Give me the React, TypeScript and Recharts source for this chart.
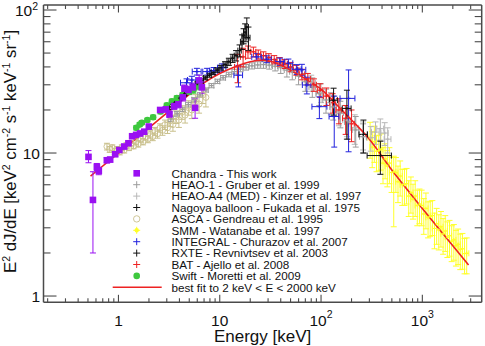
import React from 'react';
import { ComposedChart, Scatter, Line, XAxis, YAxis, ErrorBar, Legend } from 'recharts';

// Each point: [energy keV, E^2 dJ/dE, y error (sym or [lo, hi]), x error (sym or [lo, hi])]
type Err = number | [number, number];
type Pt = [number, number, Err?, Err?];

const chandraPts: Pt[] = [
  [0.506, 9.4, [0.85, 1.0]], [0.56, 4.7, [2.7, 2.7]], [0.612, 8.0, 0.45], [0.64, 7.5, 0.45],
  [0.768, 8.9, 0.35], [0.828, 9.0, 0.35], [0.928, 9.8, 0.35], [1.02, 10.5, 0.35],
  [1.14, 11.1, 0.4], [1.255, 11.7, 0.4], [1.365, 13.1, 0.45], [1.495, 13.4, 0.45],
  [1.637, 13.7, 0.5], [1.794, 14.1, 0.5], [1.995, 15.3, 0.6], [2.58, 20.0, 0.8],
  [2.94, 20.2, 0.9], [3.19, 18.7, 1.0], [3.55, 21.3, 1.1], [3.91, 21.9, 1.2],
  [4.32, 24.5, 1.4], [4.48, 28.3, 1.6], [4.91, 27.6, 1.7], [5.42, 28.8, 2.0],
  [5.71, 20.7, 3.2], [6.26, 32.2, 2.8], [6.66, 28.8, 2.6],
];

const heao1Pts: Pt[] = [
  [3.3, 17.3, 0.7, 0.2], [3.8, 18.8, 0.7, 0.2], [4.3, 20.2, 0.7, 0.25], [4.9, 21.8, 0.8, 0.3],
  [5.6, 23.6, 0.8, 0.3], [6.4, 25.5, 0.9, 0.35], [7.3, 27.6, 0.9, 0.4], [8.3, 29.6, 1.0, 0.45],
  [9.5, 31.7, 1.1, 0.5], [10.8, 33.6, 1.2, 0.6], [12.3, 35.4, 1.3, 0.7], [14.0, 37.1, 1.4, 0.8],
  [16.0, 38.6, 1.6, 0.9], [18.2, 39.8, 1.8, 1.0], [20.8, 40.7, 2.0, 1.2], [23.7, 41.3, 2.2, 1.4],
  [27.0, 41.5, 2.4, 1.6], [30.8, 41.2, 2.6, 1.8], [35.2, 40.5, 3.0, 2.0], [40.0, 39.5, 3.5, 2.3],
  [46.0, 38.0, 4.0, 2.7], [52.0, 37.0, 4.5, 3.0], [60.0, 34.5, 4.5, 4.0], [70.0, 31.5, 4.5, 5.0],
  [82.0, 29.0, 4.5, 6.0], [96.0, 26.0, 4.5, 7.0], [112, 23.5, 4.5, 8.0], [132, 21.0, 4.0, 10],
  [155, 19.0, 4.0, 12], [185, 16.5, 4.0, 14], [220, 14.5, 3.5, 17], [260, 13.0, 3.0, 20],
];

const heaoA4Pts: Pt[] = [
  [80, 31.0, 4.0, 8], [100, 26.5, 4.0, 10], [125, 22.5, 4.0, 12], [150, 19.5, 4.0, 14],
  [180, 17.0, 4.0, 16], [215, 15.0, 3.5, 20], [260, 13.5, 3.0, 25], [310, 12.8, 2.5, 28],
  [345, 14.0, 2.5, 30], [385, 14.8, 2.5, 30], [425, 13.8, 2.5, 35], [455, 12.5, 2.5, 35],
];

const nagoyaPts: Pt[] = [
  [133, 23.4, 5.0, 12], [180, 20.5, [8, 7], 18], [262, 13.5, 3.5, 25], [385, 9.6, 2.5, [100, 110]],
];

const ascaPts: Pt[] = [
  [0.77, 11.1, 0.6], [0.82, 10.6, 0.5], [0.87, 10.9, 0.5], [0.92, 10.3, 0.5], [0.97, 10.6, 0.5],
  [1.03, 10.2, 0.5], [1.08, 10.9, 0.5], [1.14, 10.5, 0.5], [1.2, 11.3, 0.5], [1.27, 10.9, 0.5],
  [1.34, 11.7, 0.5], [1.41, 11.2, 0.5], [1.49, 12.0, 0.6], [1.57, 11.6, 0.6], [1.66, 12.5, 0.6],
  [1.75, 12.0, 0.6], [1.85, 13.0, 0.7], [1.95, 12.5, 0.7], [2.06, 13.5, 0.8], [2.18, 13.0, 0.8],
  [2.3, 14.2, 0.9], [2.43, 13.6, 0.9], [2.57, 15.0, 1.0], [2.72, 14.4, 1.1], [2.88, 15.8, 1.2],
  [3.05, 15.0, 1.3], [3.25, 16.8, 1.5], [3.45, 15.8, 1.6], [3.7, 17.9, 1.8], [3.95, 17.0, 1.9],
  [4.25, 19.3, 2.1], [4.55, 18.4, 2.2], [4.9, 20.8, 2.4], [5.3, 20.0, 2.6], [5.75, 22.8, 2.8],
  [6.25, 22.0, 3.0], [6.8, 25.5, 3.3], [7.3, 24.5, 3.5],
];

const smmPts: Pt[] = [
  [305, 12.8, 3.6, 15], [320, 11.0, 3.1, 16], [336, 12.0, 3.4, 17], [353, 10.3, 2.9, 18],
  [371, 10.4, 2.9, 19], [389, 10.6, 3.0, 19], [409, 8.5, 2.4, 20], [429, 9.1, 2.5, 21],
  [451, 8.1, 2.3, 23], [473, 8.5, 2.4, 24], [497, 7.3, 2.0, 25], [522, 7.4, [4.35, 2.1], 26],
  [548, 7.3, 2.0, 27], [575, 6.3, 1.8, 29], [604, 6.9, 1.9, 30], [634, 6.0, 1.7, 32],
  [666, 6.0, 1.7, 33], [699, 6.1, 1.7, 35], [734, 5.0, 1.4, 37], [771, 5.3, 1.5, 39],
  [809, 4.75, 1.3, 40], [850, 5.0, 1.4, 43], [892, 4.3, 1.2, 45], [937, 4.4, 1.2, 47],
  [984, 4.3, 1.2, 49], [1033, 3.75, 1.05, 52], [1085, 4.1, 1.15, 54], [1139, 3.55, 1.0, 57],
  [1196, 3.6, 1.0, 60], [1256, 3.65, 1.0, 63], [1318, 2.97, 0.83, 66], [1384, 3.2, 0.9, 69],
  [1454, 2.9, 0.8, 73], [1526, 3.05, 0.85, 76], [1603, 2.72, 0.76, 80], [1683, 2.85, 0.8, 84],
  [1767, 2.58, 0.72, 88], [1855, 2.64, 0.74, 93], [1948, 2.42, 0.68, 97], [2046, 2.47, 0.69, 102],
  [2148, 2.25, 0.63, 107], [2255, 2.3, 0.64, 113], [2368, 2.12, 0.59, 118], [2487, 2.14, 0.6, 124],
  [2611, 1.98, 0.55, 131], [2741, 1.99, 0.56, 137],
];

const integralPts: Pt[] = [
  [4.7, 31.0, 2.0, 0.6], [5.3, 32.4, 2.0, 0.5], [5.95, 37.1, 2.0, 0.6], [7.5, 37.1, 2.0, 0.7],
  [8.7, 37.6, 2.0, 0.8], [10.5, 39.5, 2.5, 1.0], [15.3, 35.0, 6.0, 1.5], [23.2, 47.0, 2.5, 2.5],
  [29.2, 45.3, 2.5, 3.0], [39.4, 43.6, 2.5, 4.0], [47.6, 42.4, 3.0, 5.0], [57.7, 38.5, 3.0, 6.0],
  [64.7, 38.2, 3.5, 6.0], [72.4, 29.9, 4.0, 7.0], [96.3, 21.1, [3.7, 3.6], [15, 18]],
  [135, 18.0, 7.0, 15], [187, 24.1, [13.9, 14.0], [33, 29]],
];

const rxtePts: Pt[] = [
  [3.2, 21.0, 0.8, 0.15], [3.6, 22.6, 0.8, 0.15], [4.0, 24.2, 0.8, 0.2], [4.5, 26.0, 0.8, 0.2],
  [5.0, 27.6, 0.8, 0.25], [5.5, 29.1, 0.9, 0.25], [6.0, 30.5, 0.9, 0.25], [6.6, 32.0, 1.0, 0.3],
  [7.2, 33.5, 1.0, 0.3], [7.9, 35.0, 1.1, 0.35], [8.6, 36.5, 1.2, 0.35], [9.4, 38.0, 1.3, 0.4],
  [10.3, 39.5, 1.5, 0.45], [11.3, 41.5, 2.0, 0.5], [12.3, 43.5, 2.5, 0.5], [13.4, 46.0, 3.0, 0.5],
  [14.5, 48.0, 4.0, 0.6], [15.7, 52.0, 5.0, 0.6], [16.6, 60.0, 7.0, 0.6], [17.2, 66.0, 8.0, 0.6],
  [17.8, 70.0, 10.0, 0.6], [18.5, 76.0, 12.0, 0.7], [19.2, 64.0, 12.0, 0.7],
];

const batPts: Pt[] = [
  [15, 40, 9, 1], [17, 47, 7, 1], [19, 51, 5, 1], [21.5, 51, 4, 1.2], [24, 49, 3.5, 1.3],
  [27, 48, 3, 1.5], [30.5, 46.5, 3, 1.7], [34.5, 45, 3, 2], [39, 43.5, 3, 2.2], [44, 42, 3, 2.5],
  [50, 40, 3, 3], [57, 38, 3, 3.5], [65, 35.5, 3, 4], [74, 33, 3, 4.5], [85, 30, 3, 5],
  [98, 27.5, 3, 6], [113, 25, 3.5, 7], [130, 22.5, 3.5, 8], [150, 20, 4, 10], [175, 17.5, 4, 12],
  [200, 16, 4, 13],
];

const swiftPts: Pt[] = [
  [1.5, 15.0, 0.5], [1.62, 15.8, 0.5], [1.7, 16.3, 0.5], [1.93, 17.0, 0.5], [2.2, 17.8, 0.6],
  [2.6, 19.5, 0.7], [3.0, 21.6, 0.7], [3.37, 23.0, 0.8], [3.77, 24.2, 0.9], [4.3, 25.4, 1.0],
  [5.0, 26.8, 1.2], [5.5, 27.6, 1.4], [6.2, 29.3, 1.6],
];

// Broken power-law fit, 2 keV < E < 2000 keV
const fitE = [0.53, 1, 2, 4, 7, 10, 14, 20, 27, 35, 50, 70, 100, 150, 200, 300, 500, 1000, 2000, 2860];
const fitF = [6.9, 10, 15, 22.5, 31, 36, 40, 43.5, 44.5, 43, 38, 33, 28, 21, 17, 12.5, 7.6, 4.1, 2.25, 1.65];

const xMajor = [1, 10, 100, 1000];
const xMinor = [0.2, 0.3, 0.4, 0.5, 0.6, 0.7, 0.8, 0.9, 2, 3, 4, 5, 6, 7, 8, 9, 20, 30, 40, 50, 60, 70, 80, 90,
  200, 300, 400, 500, 600, 700, 800, 900, 2000, 3000];
const yMajor = [1, 10, 100];
const yMinor = [2, 3, 4, 5, 6, 7, 8, 9, 20, 30, 40, 50, 60, 70, 80, 90];

const xDomain: [number, number] = [0.182, 3855];
const yDomain: [number, number] = [0.904, 108.4];

const PURPLE = '#9a10f2';
const GRAY1 = '#9c9c9c';
const GRAY2 = '#b8b8b8';
const BLACK = '#111111';
const TAN = '#c9c08c';
const YELLOW = '#ffff2a';
const BLUE = '#2222dd';
const RED = '#ee2222';
const GREEN = '#3ec83e';
const FRAME = '#4a4a4a';
const FONT = '"Liberation Sans", Arial, Helvetica, sans-serif';

const legendRows = [
  { name: 'Chandra - This work', kind: 'square', color: PURPLE },
  { name: 'HEAO-1 - Gruber et al. 1999', kind: 'plus', color: GRAY1 },
  { name: 'HEAO-A4 (MED) - Kinzer et al. 1997', kind: 'plus', color: GRAY2 },
  { name: 'Nagoya balloon - Fukada et al. 1975', kind: 'plus', color: BLACK },
  { name: 'ASCA - Gendreau et al. 1995', kind: 'ring', color: TAN },
  { name: 'SMM - Watanabe et al. 1997', kind: 'blob', color: YELLOW },
  { name: 'INTEGRAL - Churazov et al. 2007', kind: 'plus', color: BLUE },
  { name: 'RXTE - Revnivtsev et al. 2003', kind: 'plus', color: BLACK },
  { name: 'BAT - Ajello et al. 2008', kind: 'plus', color: RED },
  { name: 'Swift - Moretti et al. 2009', kind: 'dot', color: GREEN },
  { name: 'best fit to 2 keV < E < 2000 keV', kind: 'line', color: RED },
];

const rows = (pts: Pt[]) => pts.map(([e, f, dy, dx]) => ({ e, f, dy: dy ?? 0, dx: dx ?? 0 }));
const fitRows = fitE.map((e, i) => ({ e, f: fitF[i] }));

const isDecade = (v: number) => Math.abs(Math.log10(v) - Math.round(Math.log10(v))) < 1e-9;

const decadeText = (v: number, x: number, y: number, anchor: 'middle' | 'end', supDy: number) => {
  const p = Math.round(Math.log10(v));
  return (
    <text x={x} y={y} textAnchor={anchor} fontSize={15.5} fontFamily={FONT} fill="#111">
      {p <= 1 ? String(v) : '10'}
      {p > 1 && <tspan dy={supDy} fontSize={10.5}>{p}</tspan>}
    </text>
  );
};

const BottomTick = (props: any) => {
  const { x, y, payload } = props;
  const major = isDecade(payload.value);
  return (
    <g>
      <line x1={x} x2={x} y1={y} y2={y - (major ? 7.5 : 4)} stroke={FRAME} strokeWidth={1.1} />
      {major && decadeText(payload.value, x, y + 23.7, 'middle', -8.5)}
    </g>
  );
};

const TopTick = (props: any) => {
  const { x, y, payload } = props;
  const major = isDecade(payload.value);
  return <line x1={x} x2={x} y1={y} y2={y + (major ? 7.5 : 4)} stroke={FRAME} strokeWidth={1.1} />;
};

const LeftTick = (props: any) => {
  const { x, y, payload } = props;
  const major = isDecade(payload.value);
  return (
    <g>
      <line x1={x} x2={x + (major ? 13 : 7)} y1={y} y2={y} stroke={FRAME} strokeWidth={1.1} />
      {major && decadeText(payload.value, payload.value > 50 ? x - 5.5 : x - 3.5, y + 6, 'end', -6.5)}
    </g>
  );
};

const RightTick = (props: any) => {
  const { x, y, payload } = props;
  const major = isDecade(payload.value);
  return <line x1={x} x2={x - (major ? 13 : 7)} y1={y} y2={y} stroke={FRAME} strokeWidth={1.1} />;
};

const squareShape = (c: string) => (p: any) => (
  <rect x={p.cx - 3.3} y={p.cy - 3.3} width={6.6} height={6.6} fill={c} />
);
const dotShape = (c: string, r: number) => (p: any) => <circle cx={p.cx} cy={p.cy} r={r} fill={c} />;
const ringShape = (c: string, r: number) => (p: any) => (
  <circle cx={p.cx} cy={p.cy} r={r} fill="none" stroke={c} strokeWidth={0.9} />
);
const plusShape = (c: string, s: number) => (p: any) => (
  <path d={`M${p.cx - s},${p.cy}H${p.cx + s}M${p.cx},${p.cy - s}V${p.cy + s}`} stroke={c} strokeWidth={1} />
);

const legendMarker = (kind: string, color: string, cx: number, cy: number) => {
  switch (kind) {
    case 'square':
      return <rect x={cx - 3.3} y={cy - 3.3} width={6.6} height={6.6} fill={color} />;
    case 'ring':
      return <circle cx={cx} cy={cy} r={3.2} fill="none" stroke={color} strokeWidth={0.9} />;
    case 'dot':
      return <circle cx={cx} cy={cy} r={3.3} fill={color} />;
    case 'blob':
      return (
        <g>
          <circle cx={cx} cy={cy} r={2.2} fill={color} />
          <path d={`M${cx - 3.5},${cy}H${cx + 3.5}M${cx},${cy - 3.5}V${cy + 3.5}`} stroke={color} strokeWidth={1} />
        </g>
      );
    case 'line':
      return <line x1={112.7} x2={161.7} y1={cy} y2={cy} stroke={color} strokeWidth={1.6} />;
    default:
      return <path d={`M${cx - 3.5},${cy}H${cx + 3.5}M${cx},${cy - 3.5}V${cy + 3.5}`} stroke={color} strokeWidth={1} />;
  }
};

const renderLegend = () => (
  <svg width={485} height={346} style={{ position: 'absolute', left: 0, top: 0 }}>
    {legendRows.map((r, i) => {
      const cy = 173.3 + i * 11.4;
      return (
        <g key={r.name}>
          {legendMarker(r.kind, r.color, 136.7, cy)}
          <text x={171.5} y={cy + 4.2} fontSize={11.7} fontFamily={FONT} fill="#111">
            {r.name}
          </text>
        </g>
      );
    })}
  </svg>
);

const xTitle = (props: any) => {
  const vb = props.viewBox || { x: 43.5, width: 438.2, y: 302.3 };
  return (
    <text x={vb.x + vb.width / 2} y={341.7} textAnchor="middle" fontSize={17} fontFamily={FONT} fill="#111">
      Energy [keV]
    </text>
  );
};

const Y_TITLE_X = 16.3;
const Y_TITLE_Y = 151.5;

const yTitle = () => (
  <text
    x={Y_TITLE_X}
    y={Y_TITLE_Y}
    transform={`rotate(-90 ${Y_TITLE_X} ${Y_TITLE_Y})`}
    textAnchor="middle"
    fontSize={16.8}
    fontFamily={FONT}
    fill="#111"
  >
    E<tspan dy={-6} fontSize={10.5}>2</tspan>
    <tspan dy={6}> dJ/dE [keV</tspan>
    <tspan dy={-6} fontSize={10.5}>2</tspan>
    <tspan dy={6}> cm</tspan>
    <tspan dy={-6} fontSize={10.5}>-2</tspan>
    <tspan dy={6}> s</tspan>
    <tspan dy={-6} fontSize={10.5}>-1</tspan>
    <tspan dy={6}> keV</tspan>
    <tspan dy={-6} fontSize={10.5}>-1</tspan>
    <tspan dy={6}> sr</tspan>
    <tspan dy={-6} fontSize={10.5}>-1</tspan>
    <tspan dy={6}>]</tspan>
  </text>
);

const series = (key: string, pts: Pt[], color: string, shape: any, withX: boolean) => (
  <Scatter
    key={key}
    name={key}
    data={rows(pts)}
    xAxisId="bottom"
    yAxisId="left"
    dataKey="f"
    shape={shape}
    isAnimationActive={false}
    legendType="none"
  >
    <ErrorBar dataKey="dy" direction="y" width={3} stroke={color} strokeWidth={1} />
    {withX && <ErrorBar dataKey="dx" direction="x" width={3} stroke={color} strokeWidth={1} />}
  </Scatter>
);

export default function App() {
  return (
    <div style={{ width: 485, height: 346, background: '#fff' }}>
      <style>{'body{margin:0;background:#fff}'}</style>
      <ComposedChart width={485} height={346} margin={{ top: 3, right: 1.3, bottom: 13.7, left: 13.5 }}>
        <XAxis
          xAxisId="bottom"
          orientation="bottom"
          dataKey="e"
          type="number"
          scale="log"
          domain={xDomain}
          allowDataOverflow
          ticks={[...xMinor, ...xMajor]}
          interval={0}
          height={30}
          tickSize={0}
          tickMargin={0}
          tickLine={false}
          axisLine={{ stroke: FRAME, strokeWidth: 1.5 }}
          tick={BottomTick}
          label={xTitle}
        />
        <XAxis
          xAxisId="top"
          orientation="top"
          dataKey="e"
          type="number"
          scale="log"
          domain={xDomain}
          allowDataOverflow
          ticks={[...xMinor, ...xMajor]}
          interval={0}
          height={2}
          tickSize={0}
          tickMargin={0}
          tickLine={false}
          axisLine={{ stroke: FRAME, strokeWidth: 1.5 }}
          tick={TopTick}
        />
        <YAxis
          yAxisId="left"
          orientation="left"
          dataKey="f"
          type="number"
          scale="log"
          domain={yDomain}
          allowDataOverflow
          ticks={[...yMinor, ...yMajor]}
          interval={0}
          width={30}
          tickSize={0}
          tickMargin={0}
          tickLine={false}
          axisLine={{ stroke: FRAME, strokeWidth: 1.5 }}
          tick={LeftTick}
          label={yTitle}
        />
        <YAxis
          yAxisId="right"
          orientation="right"
          dataKey="f"
          type="number"
          scale="log"
          domain={yDomain}
          allowDataOverflow
          ticks={[...yMinor, ...yMajor]}
          interval={0}
          width={2}
          tickSize={0}
          tickMargin={0}
          tickLine={false}
          axisLine={{ stroke: FRAME, strokeWidth: 1.5 }}
          tick={RightTick}
        />
        {series('smm', smmPts, YELLOW, plusShape(YELLOW, 1.5), true)}
        {series('asca', ascaPts, TAN, ringShape(TAN, 3), false)}
        {series('swift', swiftPts, GREEN, dotShape(GREEN, 3.3), false)}
        {series('heaoA4', heaoA4Pts, GRAY2, plusShape(GRAY2, 1.5), true)}
        {series('heao1', heao1Pts, GRAY1, plusShape(GRAY1, 1.5), true)}
        {series('bat', batPts, RED, plusShape(RED, 1.5), true)}
        {series('integral', integralPts, BLUE, plusShape(BLUE, 2), true)}
        <Line
          xAxisId="bottom"
          yAxisId="left"
          data={fitRows}
          dataKey="f"
          type="monotone"
          stroke={RED}
          strokeWidth={1.6}
          dot={false}
          isAnimationActive={false}
          legendType="none"
        />
        {series('rxte', rxtePts, BLACK, plusShape(BLACK, 1.5), true)}
        {series('nagoya', nagoyaPts, BLACK, plusShape(BLACK, 1.5), true)}
        {series('chandra', chandraPts, PURPLE, squareShape(PURPLE), false)}
        <Legend
          layout="vertical"
          align="center"
          verticalAlign="middle"
          content={renderLegend}
          wrapperStyle={{ position: 'absolute', left: 0, top: 0, width: 485, height: 346, pointerEvents: 'none' }}
        />
      </ComposedChart>
    </div>
  );
}
